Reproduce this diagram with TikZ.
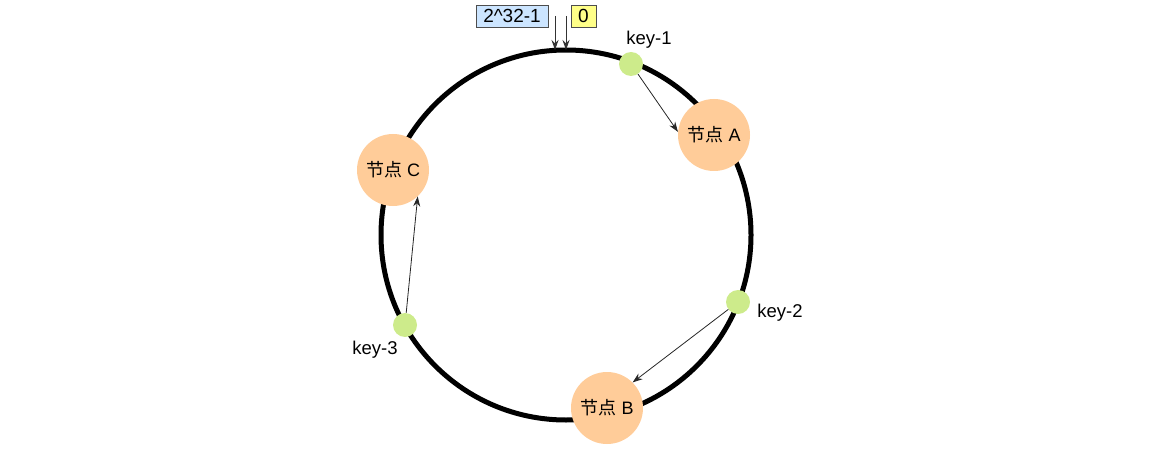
\documentclass[tikz,border=0pt]{standalone}
\usepackage{fontspec}
\setmainfont{Liberation Sans}
\newfontfamily\cjk{Noto Sans CJK SC}
\usetikzlibrary{arrows.meta}
\definecolor{nodeorange}{HTML}{FFCC99}
\definecolor{keygreen}{HTML}{CDEB8B}
\definecolor{boxblue}{HTML}{CCE5FF}
\definecolor{boxyellow}{HTML}{FFFF88}
\definecolor{boxline}{HTML}{4D4D4D}
\tikzset{
  ring/.style={line width=5pt, draw=black},
  server/.style={circle, fill=nodeorange, minimum size=72pt, inner sep=0pt, font=\fontsize{18}{20}\selectfont},
  keydot/.style={circle, fill=keygreen, minimum size=24pt, inner sep=0pt},
  keylabel/.style={font=\fontsize{18.5}{20}\selectfont, inner sep=0pt},
  valbox/.style={draw=boxline, line width=0.8pt, minimum height=22pt, inner sep=0pt, font=\fontsize{19}{20}\selectfont},
  ptr/.style={draw=black!80, line width=1pt, -{Stealth[length=10pt,width=7pt]}},
  keyarrow/.style={draw=black!85, line width=0.8pt, -{Stealth[length=10pt,width=7pt]}}
}
\begin{document}
\begin{tikzpicture}[x=1pt,y=-1pt]
\useasboundingbox (0,0) rectangle (1155,449);
\coordinate (O) at (566,235);
\draw[ring] (O) circle[radius=185];
\coordinate (top1) at (555,50);
\coordinate (top0) at (566,50);
\node[valbox, fill=boxblue, minimum width=72pt] (max) at (512,16) {2\textasciicircum 32-1};
\node[valbox, fill=boxyellow, minimum width=25pt] (zero) at (583.5,16) {0};
\draw[ptr] (555,16) -- (top1);
\draw[ptr] (566,16) -- (top0);
\node[server] (A) at (714,135) {{\cjk 节点} A};
\node[server] (B) at (607,408) {{\cjk 节点} B};
\node[server] (C) at (393,170) {{\cjk 节点} C};
\node[keydot] (k1) at (631,64) {};
\node[keydot] (k2) at (738,302) {};
\node[keydot] (k3) at (405,325) {};
\node[keylabel] (l1) at (649,40) {key-1};
\node[keylabel] (l2) at (780,313) {key-2};
\node[keylabel] (l3) at (375,350) {key-3};
\draw[keyarrow] (k1) -- (A.175);
\draw[keyarrow] (k2) -- (B.45);
\draw[keyarrow] (k3) -- (C.-47);
\end{tikzpicture}
\end{document}
